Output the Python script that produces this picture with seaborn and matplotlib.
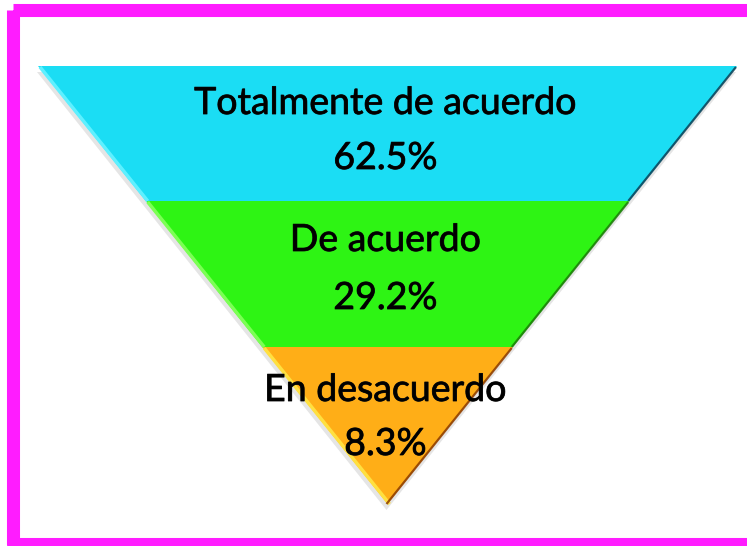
import matplotlib
matplotlib.use("Agg")
import matplotlib.pyplot as plt
import matplotlib.patheffects as pe
from matplotlib.patches import Polygon, Rectangle
import seaborn as sns

# Survey answers, top layer first
categories = ["Totalmente de acuerdo", "De acuerdo", "En desacuerdo"]
percentages = [62.5, 29.2, 8.3]
layer_colors = ["#1BDDF4", "#2EF414", "#FFAE17"]
edge_light = ["#5FF0FF", "#7CFF55", "#FFE040"]
edge_dark = ["#0B3F55", "#1B7A08", "#8A3A00"]

sns.set_theme(style="white")
plt.rcParams["font.family"] = ["Lato", "DejaVu Sans"]

W, H = 747, 546
fig = plt.figure(figsize=(W / 100, H / 100), dpi=100)
fig.patch.set_facecolor("white")
ax = fig.add_axes([0, 0, 1, 1])
ax.set_xlim(0, W)
ax.set_ylim(H, 0)
ax.axis("off")

# Inverted triangle geometry (pixel space)
top_y, apex_y = 66, 504
left_x, right_x = 38, 737
cx = (left_x + right_x) / 2
half_top = (right_x - left_x) / 2
bounds = [top_y, 201, 347, apex_y]


def half_width(y):
    return half_top * (apex_y - y) / (apex_y - top_y)


# soft drop shadow of the whole funnel
shadow = Polygon([(left_x - 1, top_y + 6), (right_x - 1, top_y + 6), (cx - 1, apex_y + 6)],
                 closed=True, facecolor="#000000", alpha=0.10, edgecolor="none", zorder=1)
ax.add_patch(shadow)

for i in range(3):
    y0, y1 = bounds[i], bounds[i + 1]
    w0, w1 = half_width(y0), half_width(y1)
    pts = [(cx - w0, y0), (cx + w0, y0), (cx + w1, y1), (cx - w1, y1)]
    ax.add_patch(Polygon(pts, closed=True, facecolor=layer_colors[i],
                         edgecolor="none", zorder=2))
    # bevel highlights along the slanted edges
    ax.plot([cx - w0 + 2, cx - w1 + 2], [y0 + 1, y1], color=edge_light[i],
            lw=2.5, solid_capstyle="butt", zorder=3)
    ax.plot([cx + w0 - 1, cx + w1 - 1], [y0 + 1, y1], color=edge_dark[i],
            lw=1.6, alpha=0.85, solid_capstyle="butt", zorder=3)

# labels: category name and percentage in each layer
name_y = [103, 240, 390]
pct_y = [158, 298, 444]
glow = [pe.withStroke(linewidth=0.6, foreground="#111111")]
for i in range(3):
    ax.text(cx - 2, name_y[i], categories[i], ha="center", va="center",
            fontsize=27, color="black", zorder=5, path_effects=glow)
    ax.text(cx - 2, pct_y[i], f"{percentages[i]:.1f}%", ha="center", va="center",
            fontsize=27, color="black", zorder=5, path_effects=glow)

# magenta frame around the chart
frame = Rectangle((12.5, 10), 738, 533.5, fill=False, edgecolor="#FF1CFF",
                  lw=9.4, joinstyle="round", clip_on=False, zorder=6)
ax.add_patch(frame)

fig.savefig("out.png", dpi=100, facecolor="white")
